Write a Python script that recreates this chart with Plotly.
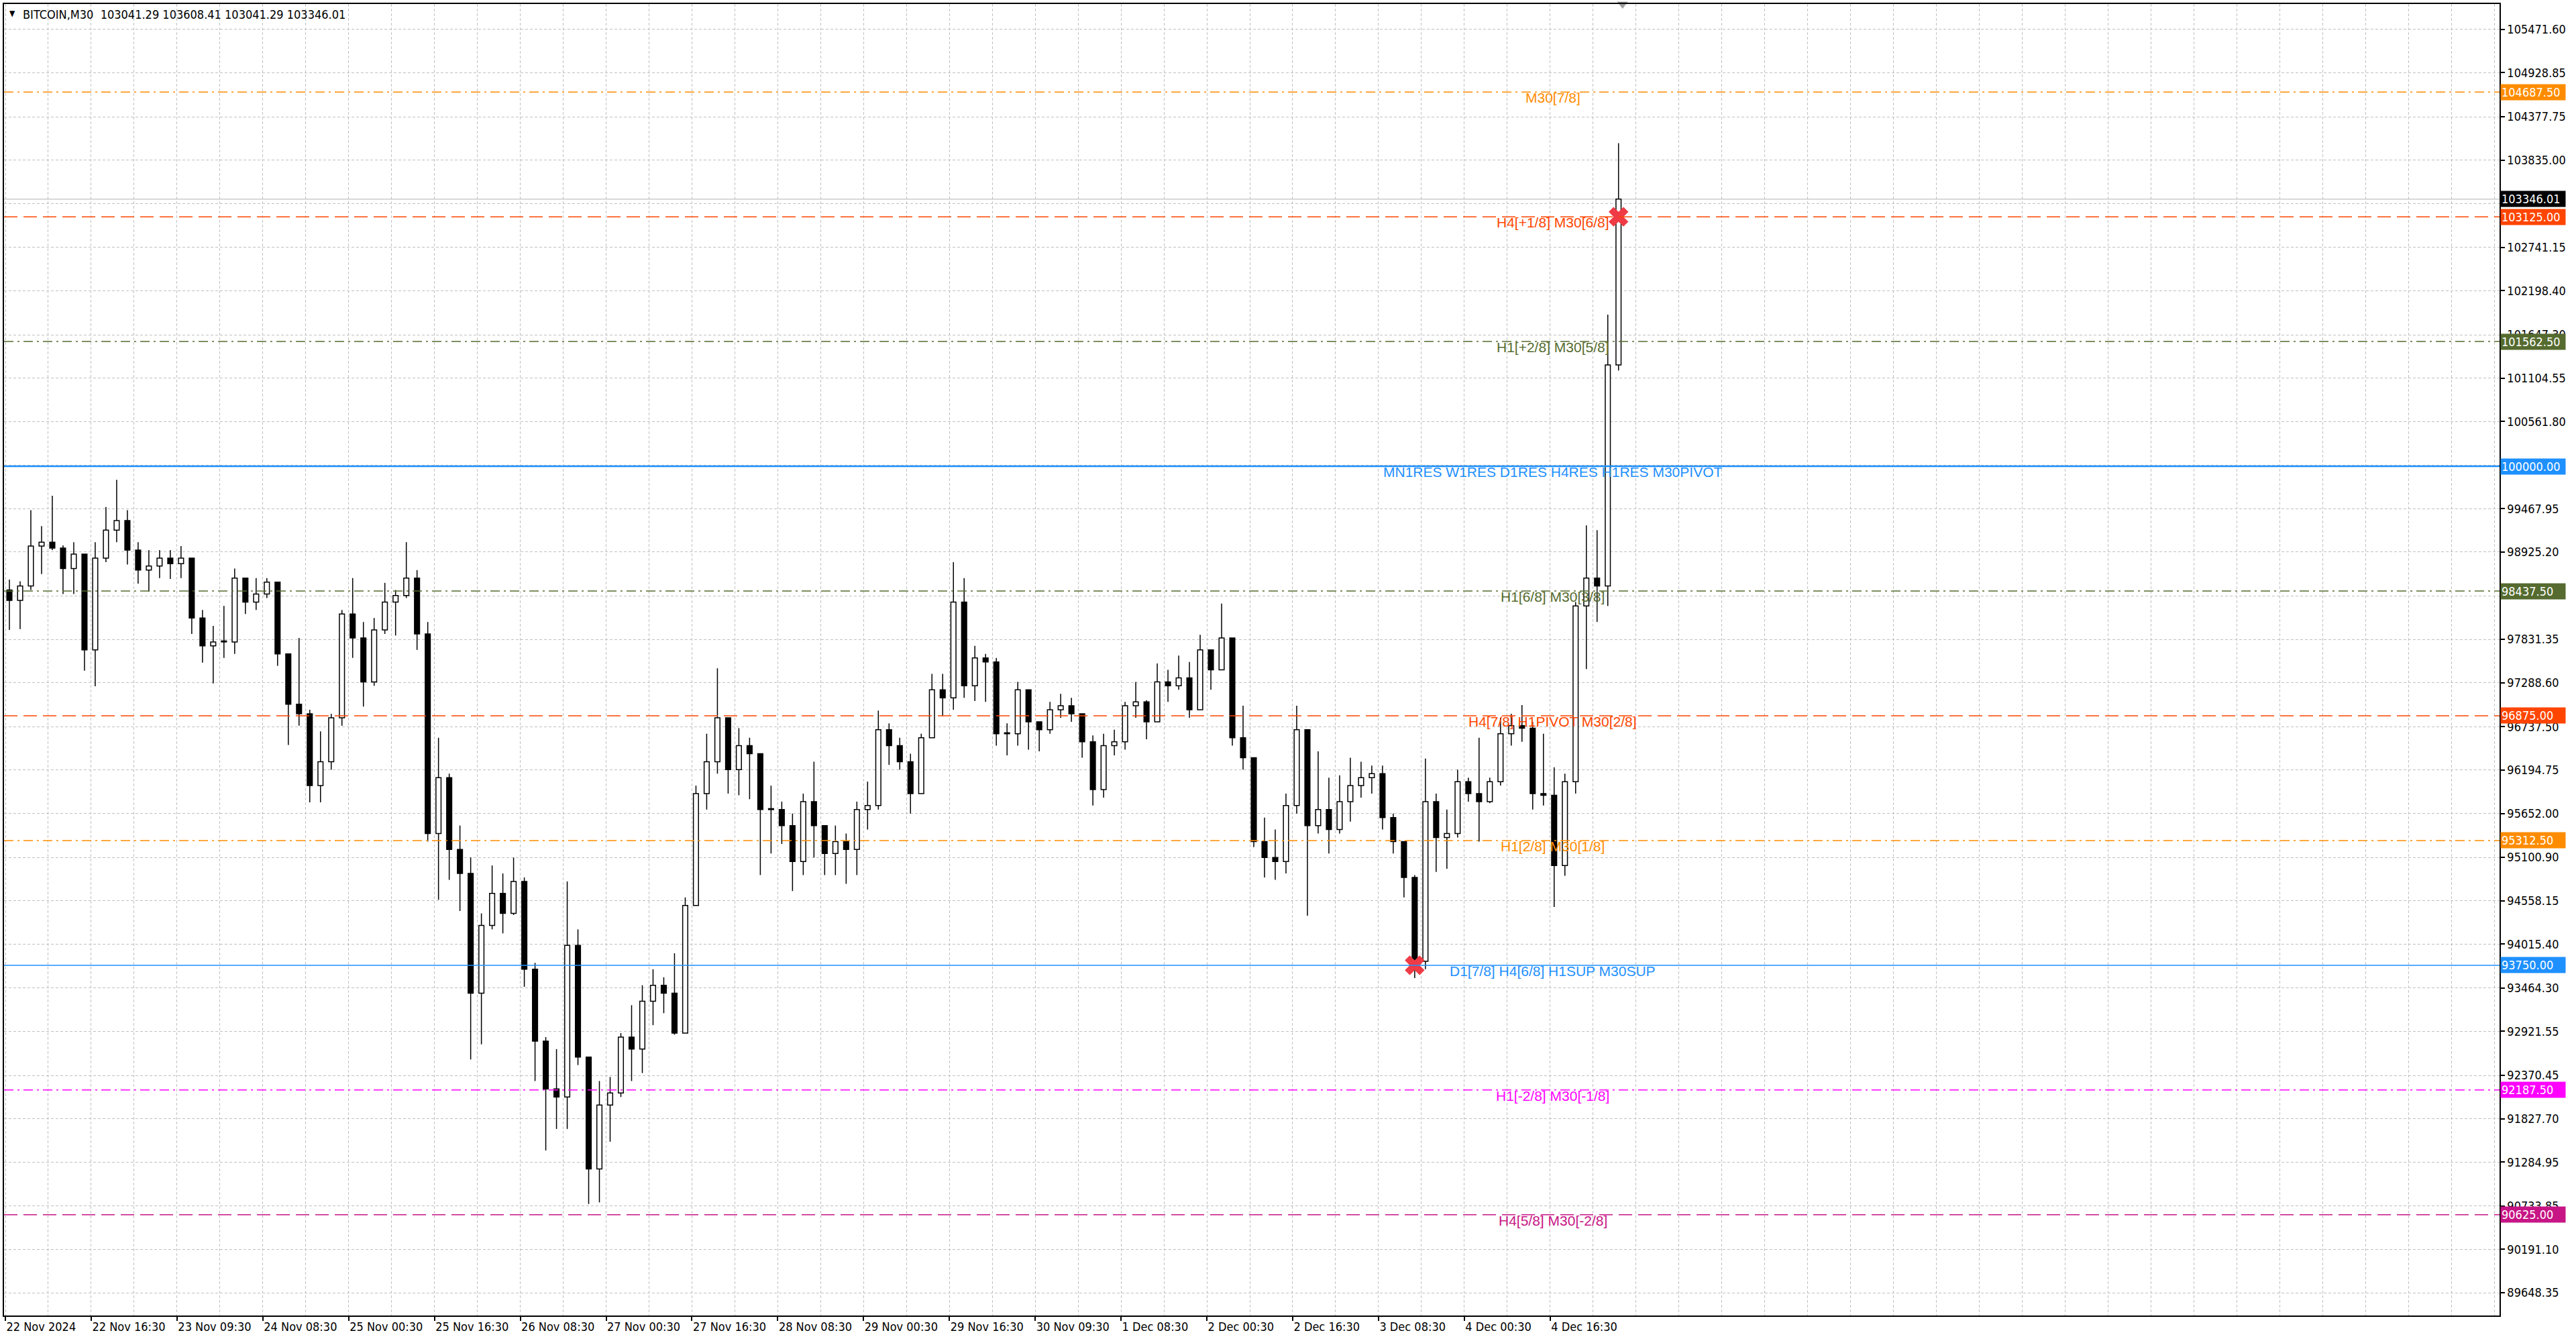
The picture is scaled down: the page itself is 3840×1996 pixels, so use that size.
import plotly.graph_objects as go

# velas de 2 horas (4 barras M30 cada)
open_first = 98450
highs = [98580, 98560, 99450, 99250, 99630, 99010, 99050, 98900, 99050, 99490,
         99830, 99450, 99050, 98950, 98950, 98950, 99000, 98850, 98200, 98000,
         98250, 98720, 98600, 98600, 98600, 98550, 97650, 97850, 96950, 96680,
         96900, 98200, 98600, 98050, 98100, 98540, 98450, 99050, 98700, 98050,
         96600, 96150, 95500, 95100, 94400, 95000, 94900, 95100, 94850, 93780,
         92850, 92700, 94800, 94200, 92600, 92300, 92350, 92900, 93250, 93500,
         93700, 93600, 93900, 94600, 96000, 96650, 97470, 96850, 96720, 96600,
         96400, 96000, 95800, 95650, 95900, 96300, 95500, 95500, 95400, 95800,
         96050, 96940, 96780, 96600, 96400, 96650, 97400, 97400, 98800, 98600,
         97750, 97650, 97600, 96780, 97300, 97200, 96800, 97050, 97150, 97100,
         96900, 96630, 96650, 96700, 97050, 97300, 97070, 97530, 97450, 97630,
         97550, 97890, 97700, 98280, 97850, 97000, 96350, 95600, 95450, 95900,
         97000, 96700, 96430, 96100, 96130, 96350, 96300, 96250, 96250, 95650,
         95300, 94880, 96340, 95900, 95700, 96200, 96100, 96600, 96100, 96850,
         96900, 97010, 96800, 96650, 96230, 96150, 98300, 99260, 99200, 101900,
         104047]
lows = [97950, 97960, 98450, 98650, 98950, 98400, 98400, 97440, 97245, 98800,
        99050, 98770, 98530, 98430, 98600, 98590, 98600, 97900, 97540, 97280,
        97600, 97650, 98150, 98200, 98350, 97500, 96510, 96750, 95790, 95790,
        96200, 96750, 97600, 96990, 97250, 97900, 97880, 98350, 97700, 95300,
        94570, 94820, 94430, 92570, 92760, 94200, 94150, 94380, 93480, 92300,
        91430, 91700, 91700, 92500, 90760, 90780, 91540, 92100, 92300, 92400,
        93000, 93150, 92880, 92900, 94500, 95700, 96150, 95900, 95880, 95830,
        94880, 95150, 95270, 94680, 94880, 95100, 94880, 94880, 94770, 94880,
        95450, 95700, 96260, 96200, 95650, 95900, 96600, 96870, 96950, 97100,
        97060, 97050, 96500, 96380, 96500, 96450, 96430, 96650, 96850, 96800,
        96350, 95750, 95850, 96380, 96450, 96850, 96580, 96800, 97050, 97200,
        96850, 96950, 97200, 97450, 96500, 96200, 95230, 94850, 94820, 94900,
        95650, 94370, 95400, 95150, 95400, 95550, 95850, 95900, 95450, 95150,
        94600, 93590, 93700, 94920, 94960, 95350, 95800, 95300, 95780, 96000,
        96500, 96550, 95700, 95750, 94480, 94870, 95900, 97460, 98050, 98250,
        101200]
closes = [98320, 98500, 99000, 99050, 98975, 98720, 98900, 97700, 98850, 99200,
          99320, 98950, 98700, 98750, 98850, 98780, 98850, 98100, 97750, 97800,
          97800, 98600, 98300, 98400, 98550, 97650, 97020, 96900, 96000, 96300,
          96850, 98150, 97850, 97300, 97950, 98300, 98380, 98600, 97900, 95400,
          96100, 95200, 94900, 93400, 94250, 94650, 94400, 94800, 93700, 92800,
          92200, 92100, 94000, 92600, 91200, 92000, 92150, 92850, 92700, 93300,
          93500, 93400, 92900, 94500, 95900, 96300, 96850, 96200, 96500, 96400,
          95700, 95700, 95500, 95050, 95800, 95500, 95150, 95300, 95200, 95700,
          95750, 96700, 96500, 96300, 95900, 96600, 97200, 97100, 98300, 97250,
          97600, 97550, 96650, 96650, 97200, 96800, 96700, 96950, 97000, 96900,
          96550, 95950, 96500, 96550, 97000, 97050, 96800, 97300, 97250, 97350,
          96950, 97700, 97450, 97850, 96600, 96350, 95300, 95100, 95050, 95750,
          96700, 95500, 95700, 95450, 95800, 96000, 96100, 96150, 95600, 95300,
          94850, 93800, 95800, 95350, 95400, 96050, 95900, 95800, 96050, 96650,
          96750, 96720, 95900, 95880, 95000, 96050, 98250, 98600, 98500, 101270,
          103346.01]

# niveis (linhas horizontais)
levels = [104687.5, 103125.0, 101562.5, 100000.0, 98437.5,
          96875.0, 95312.5, 93750.0, 92187.5, 90625.0]
level_names = ["M30[7/8]", "H4[+1/8] M30[6/8]", "H1[+2/8] M30[5/8]",
               "MN1RES W1RES D1RES H4RES H1RES M30PIVOT", "H1[6/8] M30[3/8]",
               "H4[7/8] H1PIVOT M30[2/8]", "H1[2/8] M30[1/8]",
               "D1[7/8] H4[6/8] H1SUP M30SUP", "H1[-2/8] M30[-1/8]", "H4[5/8] M30[-2/8]"]
level_colors = ["#FF8C00", "#FF4500", "#556B2F", "#1E90FF", "#556B2F",
                "#FF4500", "#FF8C00", "#1E90FF", "#FF00FF", "#C71585"]
level_dash = ["dashdot", "dash", "dashdot", "solid", "dashdot",
              "dash", "dashdot", "solid", "dashdot", "dash"]

# marcas X (indice da vela, nivel)
cross_candle = [131, 150]
cross_price = [93750.0, 103125.0]

last_price = 103346.01
title_txt = "BITCOIN,M30  103041.29 103608.41 103041.29 103346.01"

# eixo de preco
price_ticks = [105471.60, 104928.85, 104377.75, 103835.00, 103292.25, 102741.15,
               102198.40, 101647.30, 101104.55, 100561.80, 100010.70, 99467.95,
               98925.20, 98374.10, 97831.35, 97288.60, 96737.50, 96194.75,
               95652.00, 95100.90, 94558.15, 94015.40, 93464.30, 92921.55,
               92370.45, 91827.70, 91284.95, 90733.85, 90191.10, 89648.35]
# rotulos escondidos atras das etiquetas coloridas
hidden_ticks = [103292.25, 100010.70, 98374.10]

# eixo de tempo (em barras M30)
time_tick_bars = [0, 32, 64, 96, 128, 160, 192, 224, 256, 288, 320, 352,
                  384, 416, 448, 480, 512, 544, 576]
time_tick_text = ["22 Nov 2024", "22 Nov 16:30", "23 Nov 09:30", "24 Nov 08:30",
                  "25 Nov 00:30", "25 Nov 16:30", "26 Nov 08:30", "27 Nov 00:30",
                  "27 Nov 16:30", "28 Nov 08:30", "29 Nov 00:30", "29 Nov 16:30",
                  "30 Nov 09:30", "1 Dec 08:30", "2 Dec 00:30", "2 Dec 16:30",
                  "3 Dec 08:30", "4 Dec 00:30", "4 Dec 16:30"]

AXIS_FONT = "DejaVu Sans Condensed, Liberation Sans Narrow, DejaVu Sans"
LABEL_FONT = "Liberation Sans, Arial"
DASHES = {"dash": "20px,9px", "dashdot": "14px,6px,3px,6px", "solid": "solid"}

opens = [open_first] + closes[:-1]
xs = [4 * k + 1.5 for k in range(len(closes))]

fig = go.Figure()

# pavios (acima e abaixo do corpo)
wx, wy = [], []
for x, o, h, l, c in zip(xs, opens, highs, lows, closes):
    top, bot = max(o, c), min(o, c)
    wx += [x, x, None, x, x, None]
    wy += [h, top, None, bot, l, None]
fig.add_trace(go.Scatter(x=wx, y=wy, mode="lines", line=dict(color="black", width=1.5),
                         hoverinfo="skip"))

# corpos
fig.add_trace(go.Bar(
    x=xs,
    y=[max(abs(c - o), 12) for o, c in zip(opens, closes)],
    base=[min(o, c) for o, c in zip(opens, closes)],
    width=1.9,
    marker=dict(color=["white" if c >= o else "black" for o, c in zip(opens, closes)],
                line=dict(color="black", width=1.5)),
    hoverinfo="skip"))

# linha do preco atual
fig.add_hline(y=last_price, line=dict(color="#C0C0C0", width=1.2), layer="below")

# niveis
for lv, nm, col, ds in zip(levels, level_names, level_colors, level_dash):
    w = 2.5 if (ds == "solid" and lv == 100000.0) else 1.5
    fig.add_hline(y=lv, line=dict(color=col, width=w, dash=DASHES[ds]))
    fig.add_annotation(x=577, y=lv, xref="x", yref="y", text=nm, showarrow=False,
                       xanchor="center", yanchor="top", yshift=5,
                       font=dict(family=LABEL_FONT, size=21, color=col))
    fig.add_annotation(x=1, y=lv, xref="paper", yref="y",
                       text="%.2f" % lv, showarrow=False, xanchor="left", yanchor="middle",
                       xshift=1, width=94, align="left", bgcolor=col, borderpad=1,
                       font=dict(family=AXIS_FONT, size=18, color="white"))

fig.add_annotation(x=1, y=last_price, xref="paper", yref="y",
                   text="%.2f" % last_price, showarrow=False, xanchor="left",
                   yanchor="middle", xshift=1, width=94, align="left", bgcolor="black",
                   borderpad=1, font=dict(family=AXIS_FONT, size=18, color="white"))

# cruzes vermelhas
fig.add_trace(go.Scatter(
    x=[4 * k + 1.5 for k in cross_candle], y=cross_price, mode="markers",
    marker=dict(symbol="x", size=26, color="#EE3B45", line=dict(width=0)),
    hoverinfo="skip"))

# triangulo de deslocamento no topo
fig.add_trace(go.Scatter(
    x=[4 * (len(closes) - 1) + 3], y=[105790], mode="markers", cliponaxis=False,
    marker=dict(symbol="triangle-down", size=14, color="#A0A0A0"), hoverinfo="skip"))

# titulo
fig.add_annotation(x=0, y=1, xref="paper", yref="paper", text="\u25BC", showarrow=False,
                   xanchor="left", yanchor="top", xshift=6, yshift=-5,
                   font=dict(family=AXIS_FONT, size=12, color="black"))
fig.add_annotation(x=0, y=1, xref="paper", yref="paper", text=title_txt, showarrow=False,
                   xanchor="left", yanchor="top", xshift=26, yshift=-3,
                   font=dict(family=AXIS_FONT, size=18, color="black"))

fig.update_xaxes(
    range=[-0.5, 930], tickmode="array", tickvals=time_tick_bars, ticktext=time_tick_text,
    ticklabelposition="outside right", ticks="outside", ticklen=6, tickwidth=1.5,
    tickcolor="black", showgrid=True, gridcolor="#C0C0C0", griddash="4px,3px", gridwidth=1,
    minor=dict(tick0=0, dtick=16, showgrid=True, gridcolor="#C0C0C0", griddash="4px,3px",
               gridwidth=1, ticks=""),
    showline=True, linecolor="black", linewidth=1.5, mirror=True, zeroline=False,
    tickfont=dict(family=AXIS_FONT, size=18, color="black"), fixedrange=True)

fig.update_yaxes(
    side="right", range=[89363, 105790], tickmode="array", tickvals=price_ticks,
    ticktext=["" if t in hidden_ticks else "%.2f" % t for t in price_ticks],
    ticks="outside", ticklen=6, tickwidth=1.5,
    tickcolor="black", showgrid=True, gridcolor="#C0C0C0", griddash="4px,3px", gridwidth=1,
    showline=True, linecolor="black", linewidth=1.5, mirror=True, zeroline=False,
    tickfont=dict(family=AXIS_FONT, size=18, color="black"), fixedrange=True)

fig.update_layout(
    width=3840, height=1996, margin=dict(l=4, r=114, t=4, b=35),
    plot_bgcolor="white", paper_bgcolor="white", showlegend=False,
    hovermode=False, barmode="overlay")

fig.write_html("out.html", config={"displayModeBar": False},
               post_script="document.body.style.margin='0px';")
